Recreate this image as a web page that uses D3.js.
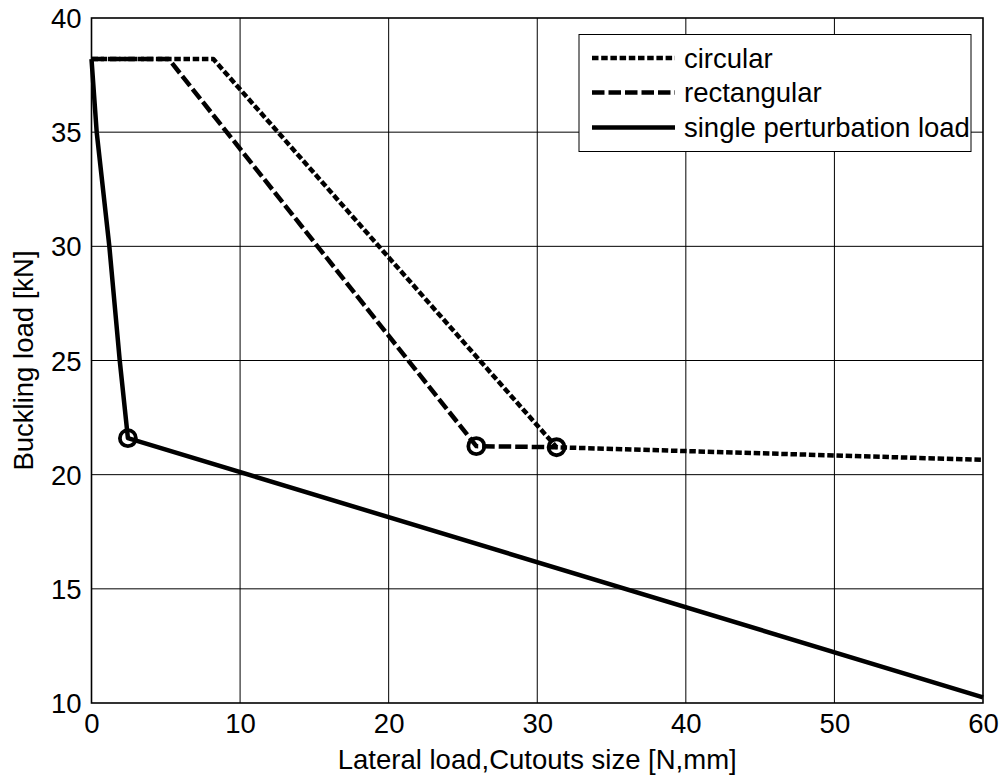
<!DOCTYPE html>
<html><head><meta charset="utf-8">
<script src="https://cdn.jsdelivr.net/npm/d3@7"></script>
<style>body{margin:0;background:#fff}svg{display:block}text{font-family:"Liberation Sans",Arial,sans-serif;fill:#000}</style>
</head><body>
<script>
const xTicks = [0,10,20,30,40,50,60];
const yTicks = [10,15,20,25,30,35,40];
const seriesNames = ["circular","rectangular","single perturbation load"];
const circularX = [0, 8.2, 31.3, 60];
const circularY = [38.2, 38.2, 21.2, 20.65];
const rectangularX = [0, 5.2, 25.9, 31.3];
const rectangularY = [38.2, 38.2, 21.25, 21.2];
const singleX = [0, 0.35, 1.2, 1.9, 2.45, 60];
const singleY = [38.2, 35, 30, 25, 21.6, 10.25];
const markerX = [2.45, 25.9, 31.3];
const markerY = [21.6, 21.25, 21.2];

const W = 1001, H = 778;
const L = 91.5, R = 983, T = 18, B = 703;
const FS = 27.5;
const svg = d3.select("body").append("svg").attr("width", W).attr("height", H);
const x = d3.scaleLinear().domain([0,60]).range([L,R]);
const y = d3.scaleLinear().domain([10,40]).range([B,T]);

// grid
const g = svg.append("g");
g.selectAll(".gx").data(xTicks.slice(1,-1)).enter().append("line")
  .attr("x1", d=>x(d)).attr("x2", d=>x(d)).attr("y1", T).attr("y2", B)
  .attr("stroke","#000").attr("stroke-width",1);
g.selectAll(".gy").data(yTicks.slice(1,-1)).enter().append("line")
  .attr("y1", d=>y(d)).attr("y2", d=>y(d)).attr("x1", L).attr("x2", R)
  .attr("stroke","#000").attr("stroke-width",1);

// axes labels via d3 axes
const xAxis = svg.append("g").attr("transform",`translate(0,${B})`)
  .call(d3.axisBottom(x).tickValues(xTicks).tickSize(0).tickPadding(9));
xAxis.select(".domain").remove();
xAxis.selectAll("text").attr("font-size",FS).attr("font-family","Liberation Sans, Arial, sans-serif").attr("dy","0.77em");
const yAxis = svg.append("g").attr("transform",`translate(${L},0)`)
  .call(d3.axisLeft(y).tickValues(yTicks).tickSize(0).tickPadding(10));
yAxis.select(".domain").remove();
yAxis.selectAll("text").attr("font-size",FS).attr("font-family","Liberation Sans, Arial, sans-serif").attr("dy","0.35em");

// frame
svg.append("rect").attr("x",L).attr("y",T).attr("width",R-L).attr("height",B-T)
  .attr("fill","none").attr("stroke","#000").attr("stroke-width",1.6);

// titles
svg.append("text").attr("x",(L+R)/2).attr("y",769).attr("text-anchor","middle")
  .attr("font-size",FS).text("Lateral load,Cutouts size [N,mm]");
svg.append("text").attr("transform",`translate(33,${(T+B)/2}) rotate(-90)`).attr("text-anchor","middle")
  .attr("font-size",FS).text("Buckling load [kN]");

const line = d3.line().x(d=>x(d[0])).y(d=>y(d[1]));
const zip = (a,b)=>a.map((v,i)=>[v,b[i]]);
const styles = [
  {dash:"6.5,2.7"},
  {dash:"12.5,4"},
  {dash:null}
];
const data = [zip(circularX,circularY), zip(rectangularX,rectangularY), zip(singleX,singleY)];
const plot = svg.append("g");
[1,0,2].forEach(i=>{
  plot.append("path").attr("d", line(data[i])).attr("fill","none").attr("stroke","#000")
    .attr("stroke-width",4.5).attr("stroke-linejoin","round")
    .attr("stroke-dasharray", styles[i].dash);
});
plot.selectAll("circle").data(zip(markerX,markerY)).enter().append("circle")
  .attr("cx",d=>x(d[0])).attr("cy",d=>y(d[1])).attr("r",8)
  .attr("fill","none").attr("stroke","#000").attr("stroke-width",3.8);

// legend
const lg = svg.append("g");
lg.append("rect").attr("x",579).attr("y",34.5).attr("width",392).attr("height",117)
  .attr("fill","#fff").attr("stroke","#000").attr("stroke-width",1);
const rowsY = [58, 92.5, 127.5];
seriesNames.forEach((n,i)=>{
  lg.append("line").attr("x1",592).attr("x2",675).attr("y1",rowsY[i]).attr("y2",rowsY[i])
    .attr("stroke","#000").attr("stroke-width",4.5).attr("stroke-dasharray",styles[i].dash);
  lg.append("text").attr("x",684).attr("y",rowsY[i]).attr("dy","0.35em").attr("font-size",FS).text(n);
});
</script>
</body></html>
